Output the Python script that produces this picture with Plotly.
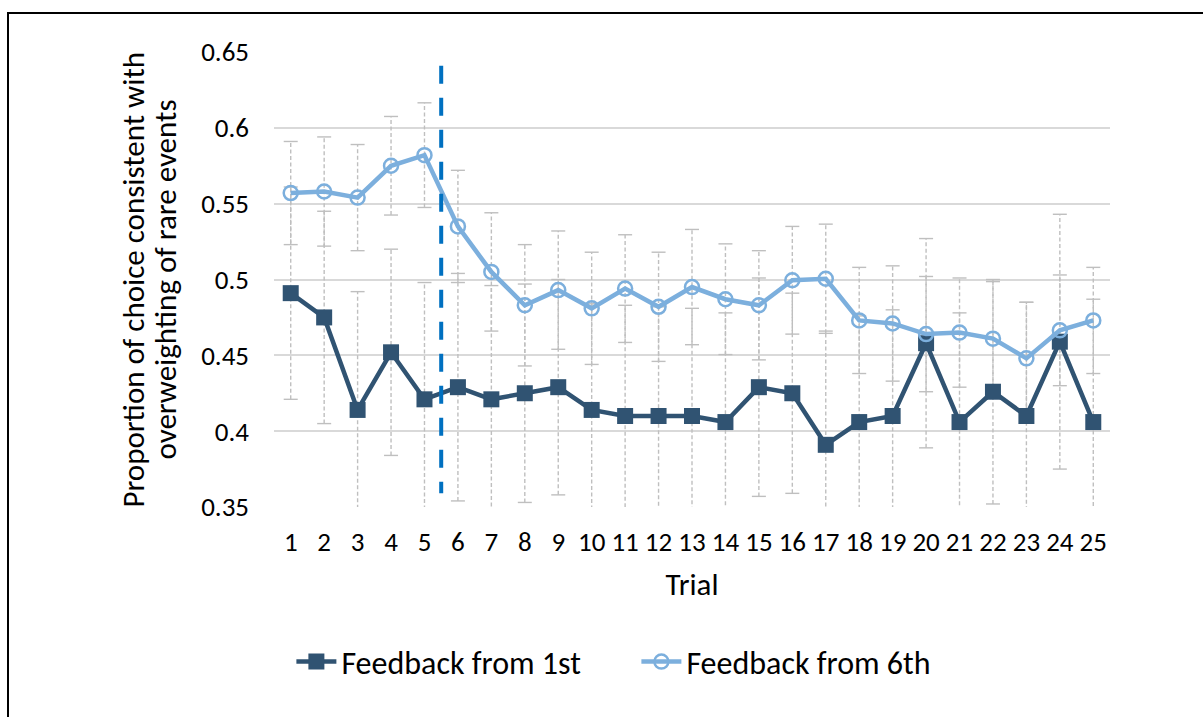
"""
Proportion of choices consistent with overweighting of rare events, by trial,
for the two feedback conditions (with error bars).
"""

import plotly.graph_objects as go

# --- data ---
trials = list(range(1, 26))

feedback_1st = [0.491, 0.475, 0.414, 0.452, 0.421, 0.429, 0.421, 0.425, 0.429, 0.414,
                0.410, 0.410, 0.410, 0.406, 0.429, 0.425, 0.391, 0.406, 0.410, 0.458,
                0.406, 0.426, 0.410, 0.459, 0.406]
feedback_1st_err = [0.070, 0.070, 0.078, 0.068, 0.077, 0.075, 0.075, 0.072, 0.071, 0.070,
                    0.073, 0.072, 0.071, 0.072, 0.072, 0.066, 0.075, 0.070, 0.070, 0.069,
                    0.072, 0.074, 0.075, 0.084, 0.081]

feedback_6th = [0.557, 0.558, 0.554, 0.575, 0.582, 0.535, 0.505, 0.483, 0.493, 0.481,
                0.494, 0.482, 0.495, 0.487, 0.483, 0.4995, 0.5005, 0.473, 0.471, 0.464,
                0.465, 0.461, 0.448, 0.4665, 0.473]
feedback_6th_err = [0.034, 0.036, 0.035, 0.0325, 0.0345, 0.037, 0.039, 0.040, 0.039, 0.037,
                    0.0355, 0.036, 0.038, 0.0365, 0.036, 0.0355, 0.036, 0.035, 0.038, 0.038,
                    0.036, 0.0376, 0.037, 0.0365, 0.035]

y_tick_vals = [0.35, 0.4, 0.45, 0.5, 0.55, 0.6, 0.65]
y_tick_text = ["0.35", "0.4", "0.45", "0.5", "0.55", "0.6", "0.65"]

y_title_lines = ["Proportion of choice consistent with", "overweighting of rare events"]

# feedback switch marker (between trial 5 and 6)
split_trial = 5.5
split_span = (0.641, 0.359)

# --- styling ---
FONT = "Calibri, Carlito, Lato, sans-serif"
DARK = "#305372"
LIGHT = "#7CAFDD"
ERR = "#BFBFBF"
GRID = "#D9D9D9"

W, H = 1203, 717
M_L, M_R, M_T, M_B = 274, 93, 52, 210


def error_traces(values, errs):
    """Dashed vertical whiskers plus short caps for one series."""
    xs, ys = [], []
    for t, v, e in zip(trials, values, errs):
        xs += [t, t, None]
        ys += [v - e, v + e, None]
    whiskers = go.Scatter(
        x=xs, y=ys, mode="lines",
        line=dict(color=ERR, width=1.4, dash="4px,2.5px"),
        hoverinfo="skip", showlegend=False,
    )
    cap_x = trials + trials
    cap_y = [v - e for v, e in zip(values, errs)] + [v + e for v, e in zip(values, errs)]
    caps = go.Scatter(
        x=cap_x, y=cap_y, mode="markers",
        marker=dict(symbol="line-ew", size=10, line=dict(color=ERR, width=1.4)),
        cliponaxis=True, hoverinfo="skip", showlegend=False,
    )
    return [whiskers, caps]


fig = go.Figure()

for tr in error_traces(feedback_6th, feedback_6th_err) + error_traces(feedback_1st, feedback_1st_err):
    fig.add_trace(tr)

fig.add_trace(go.Scatter(
    x=trials, y=feedback_1st, mode="lines+markers", name="Feedback from 1st",
    line=dict(color=DARK, width=4.5),
    marker=dict(symbol="square", size=16, color=DARK),
))
fig.add_trace(go.Scatter(
    x=trials, y=feedback_6th, mode="lines+markers", name="Feedback from 6th",
    line=dict(color=LIGHT, width=4.5),
    marker=dict(symbol="circle-open", size=14, color=LIGHT, line=dict(color=LIGHT, width=2.5)),
))

# vertical dashed separator
fig.add_shape(
    type="line", xref="x", yref="y",
    x0=split_trial, x1=split_trial, y0=split_span[0], y1=split_span[1],
    line=dict(color="#0070C0", width=4, dash="18px,14px"),
)

# outer frame (left and top edges visible, rest runs off the page)
pw, ph = W - M_L - M_R, H - M_T - M_B
fig.add_shape(
    type="rect", xref="paper", yref="paper",
    x0=(8 - M_L) / pw, x1=(W + 10 - M_L) / pw,
    y0=(H - M_B - (H + 10)) / ph, y1=(H - M_B - 13) / ph,
    line=dict(color="black", width=2), layer="above",
)

# y-axis title, two rotated lines
for text, px in zip(y_title_lines, [132, 164]):
    fig.add_annotation(
        text=text, xref="paper", yref="paper",
        x=(px - M_L) / pw, y=0.5, xanchor="center", yanchor="middle",
        textangle=-90, showarrow=False, font=dict(size=31),
    )

fig.update_layout(
    width=W, height=H,
    margin=dict(l=M_L, r=M_R, t=M_T, b=M_B, autoexpand=False),
    paper_bgcolor="white", plot_bgcolor="white",
    font=dict(family=FONT, color="black", size=27),
    showlegend=True,
    legend=dict(
        orientation="h", xref="container", yref="container",
        x=0.529, xanchor="center", y=0.077, yanchor="middle",
        font=dict(size=32), itemwidth=40, tracegroupgap=0,
        entrywidth=290,
    ),
    xaxis=dict(
        range=[0.5, 25.5], tickvals=trials, ticktext=[str(t) for t in trials],
        showgrid=False, zeroline=False, showline=False, ticks="",
        ticklabelstandoff=16, tickfont=dict(size=27),
        title=dict(text="Trial", font=dict(size=31), standoff=16),
    ),
    yaxis=dict(
        range=[0.35, 0.65], tickvals=y_tick_vals, ticktext=y_tick_text,
        showgrid=True, gridcolor=GRID, gridwidth=1.5, zeroline=False,
        showline=False, ticks="", ticklabelstandoff=24, tickfont=dict(size=27),
    ),
)

# drop the default page margin so the figure sits at the window's corner
fig.write_html(
    "out.html",
    config={"displayModeBar": False},
    post_script="document.body.style.margin='0px';",
)
